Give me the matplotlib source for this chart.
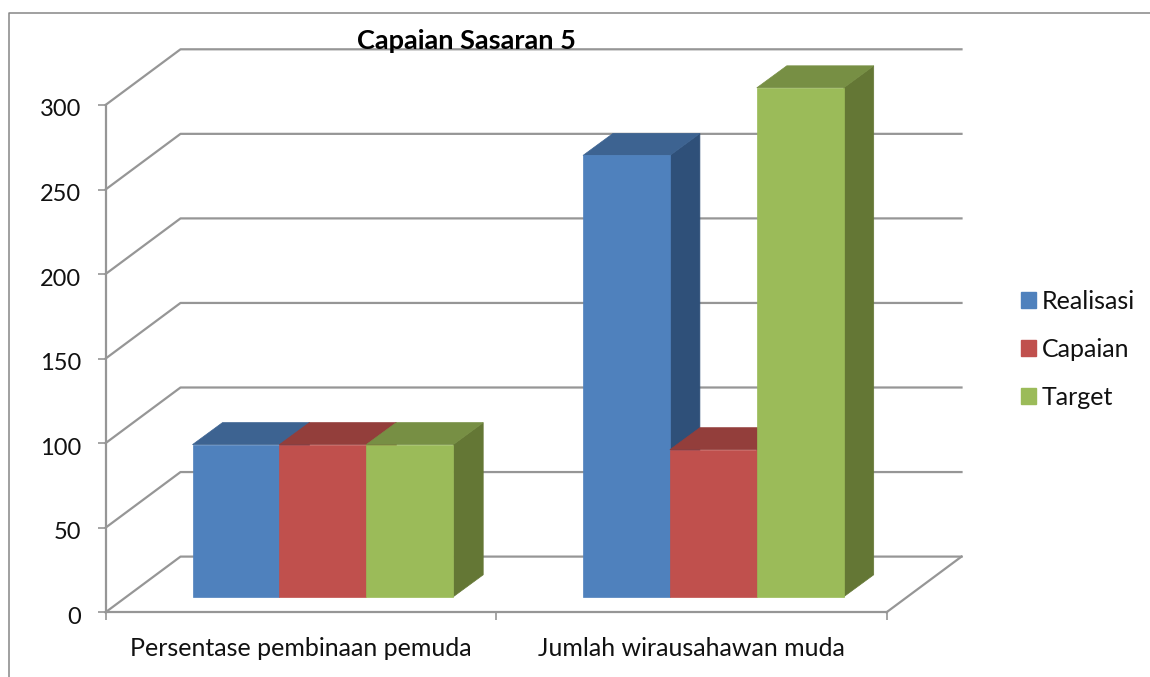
import matplotlib
matplotlib.use("Agg")
import matplotlib.pyplot as plt
from matplotlib.lines import Line2D
from matplotlib.patches import Patch, Polygon
from matplotlib.transforms import ScaledTranslation

# Values
categories = ["Persentase pembinaan pemuda", "Jumlah wirausahawan muda"]
series_names = ["Realisasi", "Capaian", "Target"]
realisasi = [90, 261]
capaian = [90, 87]
target = [90, 301]
y_ticks = [0, 50, 100, 150, 200, 250, 300]

front_colors = ["#4F81BD", "#C0504D", "#9BBB59"]
top_colors = ["#3D6391", "#933E3B", "#778F44"]
side_colors = ["#2F5079", "#7B3331", "#647735"]
line_color = "#969696"
text_color = "#111111"

W, H = 1150, 677
plt.rcParams["font.family"] = ["Lato", "DejaVu Sans"]

fig = plt.figure(figsize=(W / 100, H / 100), dpi=100)
ax = fig.add_axes([105.5 / W, (H - 612.3) / H, 781 / W, 507.3 / H])
ax.set_xlim(0, 2)
ax.set_ylim(0, 300)
ax.patch.set_visible(False)

# pixel sizes turned into data units, for the fake 3D depth
px_x = 2 / 781
px_y = 300 / 507.3
wall_dx, wall_dy = 75 * px_x, 55.7 * px_y
bar_dx, bar_dy = 30 * px_x, 22 * px_y
lift = 15.5 * px_y

# walls and floor
for v in y_ticks:
    ax.plot(
        [0, wall_dx, 2 + wall_dx],
        [v, v + wall_dy, v + wall_dy],
        color=line_color,
        lw=1.6,
        clip_on=False,
        zorder=1,
    )
ax.plot(
    [2, 2 + wall_dx],
    [0, wall_dy],
    color=line_color,
    lw=1.6,
    clip_on=False,
    zorder=1,
)

# bars
bar_w = 86.9 * px_x
group_start = 87 * px_x
values = [realisasi, capaian, target]
z = 3
for c in range(len(categories)):
    for s, vals in enumerate(values):
        x0 = c + group_start + s * bar_w
        x1 = x0 + bar_w
        v = vals[c]
        side = [
            (x1, 0),
            (x1 + bar_dx, bar_dy),
            (x1 + bar_dx, v + bar_dy),
            (x1, v),
        ]
        top = [
            (x0, v),
            (x0 + bar_dx, v + bar_dy),
            (x1 + bar_dx, v + bar_dy),
            (x1, v),
        ]
        front = [(x0, 0), (x1, 0), (x1, v), (x0, v)]
        for pts, col in [(side, side_colors[s]), (top, top_colors[s]), (front, front_colors[s])]:
            shifted = [(px, py + lift) for px, py in pts]
            ax.add_patch(
                Polygon(shifted, closed=True, fc=col, ec=col, lw=0.5, clip_on=False, zorder=z)
            )
            z += 1

# axes lines and ticks
for name in ["top", "right"]:
    ax.spines[name].set_visible(False)
for name in ["left", "bottom"]:
    ax.spines[name].set_color(line_color)
    ax.spines[name].set_linewidth(1.6)
    ax.spines[name].set_zorder(2)
ax.set_yticks(y_ticks)
ax.set_xticks([0, 1, 2])
ax.set_xticklabels([])
ax.set_xticks([0.5, 1.5], minor=True)
ax.set_xticklabels(categories, minor=True, fontsize=18, color=text_color)
ax.tick_params(axis="x", which="major", length=6, width=1.2, color=line_color)
ax.tick_params(axis="x", which="minor", length=0, pad=17.5)
ax.tick_params(axis="y", length=6, width=1.2, color=line_color, labelsize=17, labelcolor=text_color, pad=11.5)

# y labels sit a little below their ticks in the reference
down = ScaledTranslation(0, -3 / 100, fig.dpi_scale_trans)
for lab in ax.get_yticklabels():
    lab.set_transform(lab.get_transform() + down)

# title and outer border
fig.text(466 / W, 1 - 41 / H, "Capaian Sasaran 5", ha="center", va="center",
         fontsize=19.5, fontweight="bold", color="#000000", zorder=50)
fig.add_artist(
    Line2D([9 / W, 9 / W, 1], [0, 1 - 12.5 / H, 1 - 12.5 / H], color="#868686", lw=1.1)
)

# legend
handles = [Patch(fc=c, ec=c, label=n) for c, n in zip(front_colors, series_names)]
fig.legend(
    handles=handles,
    loc="upper left",
    bbox_to_anchor=(1016 / W, 1 - 285 / H),
    frameon=False,
    fontsize=18,
    handlelength=0.6,
    handleheight=0.6,
    handletextpad=0.22,
    labelspacing=1.0,
    borderpad=0.2,
    borderaxespad=0,
    labelcolor=text_color,
)

fig.savefig("out.png", dpi=100)
plt.close(fig)
